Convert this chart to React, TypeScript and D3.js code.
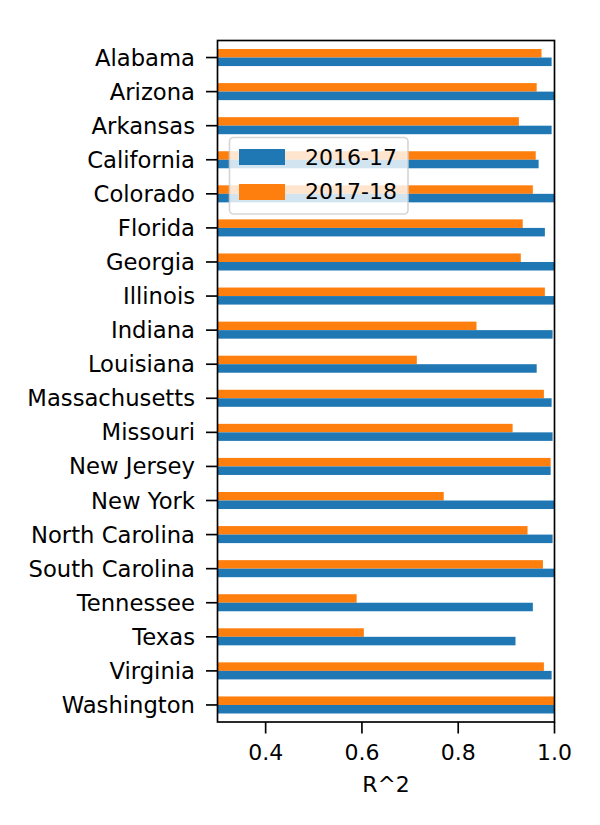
import React from "react";
import * as d3 from "d3";

const states = [
  "Alabama", "Arizona", "Arkansas", "California", "Colorado", "Florida", "Georgia",
  "Illinois", "Indiana", "Louisiana", "Massachusetts", "Missouri", "New Jersey",
  "New York", "North Carolina", "South Carolina", "Tennessee", "Texas", "Virginia", "Washington",
];
const r2_2016 = [
  0.994, 1.0, 0.994, 0.967, 1.0, 0.98, 1.0, 1.0, 0.996, 0.963, 0.994, 0.996, 0.992,
  1.0, 0.996, 1.0, 0.955, 0.919, 0.994, 1.0,
];
const r2_2017 = [
  0.973, 0.963, 0.926, 0.961, 0.955, 0.934, 0.93, 0.98, 0.838, 0.714, 0.978, 0.913, 0.992,
  0.77, 0.944, 0.976, 0.589, 0.604, 0.978, 1.0,
];
const seriesNames = ["2016-17", "2017-18"];
const xTicks = [0.4, 0.6, 0.8, 1.0];

const W = 600, H = 825;
const left = 217.5, right = 554.5, top = 40.5, bottom = 722;
const blue = "#1f77b4", orange = "#ff7f0e";
const font = "DejaVu Sans, sans-serif";
const fs = 22;
const fsY = 22.7;
const tickLen = 11.5;

export default function App() {
  const x = d3.scaleLinear().domain([0.3, 1.0]).range([left, right]);
  const y = d3.scaleLinear().domain([-0.5, 19.5]).range([top, bottom]);
  const bh = y(0.25) - y(0);
  const clip = (v: number) => Math.min(x(v), right) - left;
  return (
    <svg width={W} height={H} style={{ position: "absolute", left: 0, top: 0, background: "#fff" }}>
      <rect x={0} y={0} width={W} height={H} fill="#fff" />
      {states.map((s, i) => (
        <g key={s}>
          <rect x={left} y={y(i) - bh} width={clip(r2_2017[i])} height={bh} fill={orange} />
          <rect x={left} y={y(i)} width={clip(r2_2016[i])} height={bh} fill={blue} />
          <line x1={left - tickLen} x2={left} y1={y(i)} y2={y(i)} stroke="#000" strokeWidth={1.67} />
          <text x={195} y={y(i) + 8} textAnchor="end" fontFamily={font} fontSize={fsY}>
            {s}
          </text>
        </g>
      ))}
      {xTicks.map((t) => (
        <g key={t}>
          <line x1={x(t)} x2={x(t)} y1={bottom} y2={bottom + tickLen} stroke="#000" strokeWidth={1.67} />
          <text x={x(t)} y={759.5} textAnchor="middle" fontFamily={font} fontSize={fs}>
            {d3.format(".1f")(t)}
          </text>
        </g>
      ))}
      <rect x={left} y={top} width={right - left} height={bottom - top} fill="none" stroke="#000" strokeWidth={1.67} />
      <text x={(left + right) / 2} y={791.5} textAnchor="middle" fontFamily={font} fontSize={fs}>
        R^2
      </text>
      <g>
        <rect x={229.5} y={137.5} width={178.5} height={76.5} rx={4} fill="#fff" fillOpacity={0.8} stroke="#ccc" strokeOpacity={0.8} strokeWidth={1.67} />
        {seriesNames.map((n, i) => (
          <g key={n}>
            <rect x={239} y={149 + i * 35} width={46} height={16} fill={i === 0 ? blue : orange} />
            <text x={305} y={165 + i * 34} fontFamily={font} fontSize={fs}>
              {n}
            </text>
          </g>
        ))}
      </g>
    </svg>
  );
}
